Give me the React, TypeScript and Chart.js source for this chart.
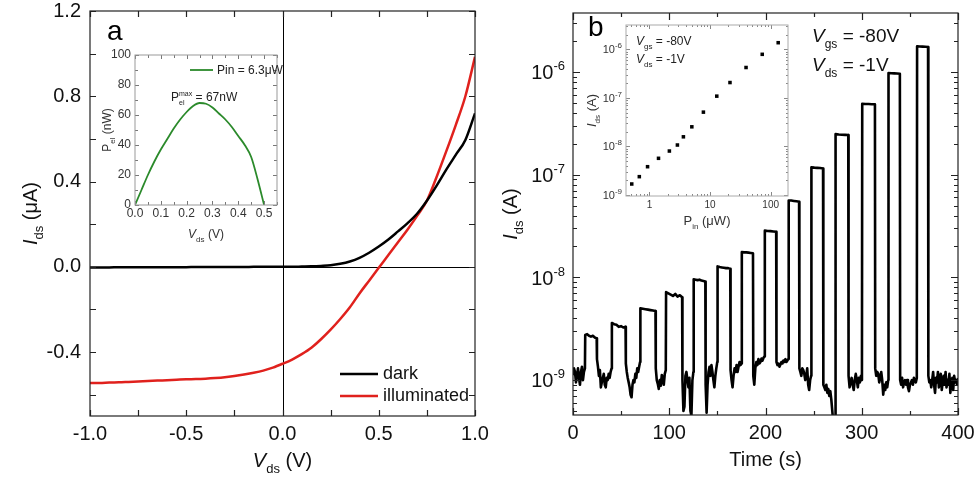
import React, { useEffect, useRef } from "react";
import { Chart, registerables } from "chart.js";

Chart.register(...registerables);

const FONT = "'Liberation Sans', Arial, Helvetica, sans-serif";

// ---------------- Panel a : Ids vs Vds ----------------
const vds = [-1.0, -0.95, -0.9, -0.85, -0.8, -0.75, -0.7, -0.65, -0.6, -0.55, -0.5, -0.45, -0.4, -0.35, -0.3, -0.25, -0.2, -0.15, -0.1, -0.05, 0, 0.05, 0.1, 0.15, 0.2, 0.25, 0.3, 0.35, 0.4, 0.45, 0.5, 0.55, 0.6, 0.65, 0.7, 0.75, 0.8, 0.85, 0.9, 0.95, 1.0];
const darkCurrent = [-0.003, -0.003, -0.003, -0.002, -0.002, -0.002, -0.002, -0.002, -0.002, -0.002, -0.002, -0.001, -0.001, -0.001, -0.001, -0.001, -0.001, 0, 0, 0, 0, 0, 0.001, 0.002, 0.004, 0.007, 0.014, 0.025, 0.042, 0.066, 0.095, 0.128, 0.166, 0.205, 0.25, 0.31, 0.38, 0.455, 0.525, 0.595, 0.72];
const illumCurrent = [-0.545, -0.545, -0.543, -0.542, -0.54, -0.538, -0.536, -0.534, -0.532, -0.53, -0.528, -0.527, -0.525, -0.522, -0.518, -0.512, -0.505, -0.497, -0.487, -0.473, -0.455, -0.435, -0.41, -0.38, -0.34, -0.295, -0.245, -0.19, -0.125, -0.065, -0.005, 0.055, 0.115, 0.175, 0.24, 0.31, 0.42, 0.54, 0.665, 0.8, 0.985];
const aXTicks = [-1, -0.5, 0, 0.5, 1];
const aXTickLabels = ["-1.0", "-0.5", "0.0", "0.5", "1.0"];
const aXMinor = [-0.75, -0.25, 0.25, 0.75];
const aYTicks = [1.2, 0.8, 0.4, 0, -0.4];
const aYTickLabels = ["1.2", "0.8", "0.4", "0.0", "-0.4"];
const aYMinor = [1.0, 0.6, 0.2, -0.2, -0.6];

// ---------------- Inset a : Pel vs Vds ----------------
const insetVds = [0, 0.025, 0.05, 0.075, 0.1, 0.125, 0.15, 0.175, 0.2, 0.225, 0.25, 0.275, 0.3, 0.325, 0.35, 0.375, 0.4, 0.425, 0.45, 0.475, 0.5];
const insetPel = [0, 10, 20, 29, 37, 44, 51, 57, 62, 66, 68, 67.5, 65, 61, 57, 52, 46, 40, 32, 17, 0];
const iaXTicks = [0, 0.1, 0.2, 0.3, 0.4, 0.5];
const iaXTickLabels = ["0.0", "0.1", "0.2", "0.3", "0.4", "0.5"];
const iaXMinor = [0.05, 0.15, 0.25, 0.35, 0.45, 0.55];
const iaYTicks = [0, 20, 40, 60, 80, 100];
const iaYTickLabels = ["0", "20", "40", "60", "80", "100"];
const iaYMinor = [10, 30, 50, 70, 90];

// ---------------- Panel b : Ids vs time ----------------
const pulseStart = [12.4, 40.1, 69.7, 96.4, 125.1, 149.9, 175.1, 199, 223.8, 247.4, 272.5, 300.2, 327.5, 357.2];
const pulseEnd = [24.9, 54.9, 86.0, 113.7, 137.8, 163.7, 187.3, 211.4, 235.2, 260.1, 286.3, 314, 339.9, 369.2];
// on-state current (nA) along each pulse
const plateauNA = [
  [2.75, 2.8, 2.7, 2.65, 2.7, 2.6, 2.55],
  [3.6, 3.5, 3.45, 3.3, 3.35, 3.25, 3.3],
  [5.0, 4.95, 4.9, 4.85, 4.8, 4.75, 4.7],
  [7.2, 7.0, 6.8, 6.6, 6.9, 6.5, 6.7, 6.4],
  [9.6, 9.5, 9.4, 9.5, 9.3, 9.2, 9.1],
  [12.8, 12.6, 12.5, 12.4, 12.3, 12.3, 12.1],
  [17.6, 17.5, 17.5, 17.4, 17.3, 17.2],
  [28.5, 28.3, 28.2, 28.0, 27.8],
  [56, 56, 55.5, 55, 54.5],
  [118, 117, 116.5, 116, 115],
  [248, 246, 245, 244, 243],
  [490, 488, 487, 485, 484],
  [975, 970, 968, 965, 960],
  [1780, 1770, 1765, 1760, 1750],
];
// dark-state current (nA) in each gap between pulses
const baselineNA = [
  [1.15, 1.3, 1.2, 0.95, 1.1, 1.3, 1.05, 0.9, 1.2, 1.35, 1.0, 1.2, 1.3],
  [1.6, 1.35, 1.1, 1.25, 0.85, 0.95, 1.05, 1.15, 0.9, 0.85, 1.05, 1.0, 1.15, 1.05, 1.2, 1.3],
  [1.45, 1.2, 1.05, 0.95, 0.85, 0.72, 0.68, 0.9, 1.0, 0.95, 1.15, 1.05, 1.3, 1.2, 1.35, 1.5],
  [1.3, 1.0, 0.92, 0.82, 1.0, 0.88, 1.12, 1.05, 0.9, 1.15, 1.25],
  [1.0, 0.5, 0.55, 1.1, 1.2, 1.0, 0.85, 1.05, 0.5, 0.45, 1.0, 1.2],
  [0.9, 0.48, 0.9, 1.2, 1.35, 1.1, 1.4, 1.2, 1.0, 0.85, 1.1, 1.3, 1.5],
  [1.25, 1.0, 0.85, 1.1, 1.3, 1.2, 1.4, 1.2, 1.35, 1.5, 1.4, 1.45],
  [1.1, 0.9, 1.3, 1.5, 1.4, 1.6, 1.45, 1.5, 1.62, 1.55, 1.65, 1.7],
  [1.5, 1.4, 1.45, 1.35, 1.42, 1.5, 1.45, 1.55, 1.5, 1.6, 1.5, 1.55, 1.6],
  [1.3, 1.2, 1.1, 1.3, 1.25, 1.15, 1.0, 1.1, 1.3, 0.9, 0.8, 1.0, 1.1],
  [0.9, 0.85, 0.8, 0.9, 0.75, 0.82, 0.7, 0.78, 0.65, 0.5, 0.38, 0.3, 0.42],
  [1.1, 0.85, 0.95, 1.05, 0.9, 0.8, 1.0, 1.15, 1.0, 0.85, 1.05, 0.95, 1.1, 1.0],
  [1.3, 1.1, 1.2, 1.15, 0.95, 1.05, 1.2, 1.0, 0.72, 0.9, 0.8, 0.95, 0.85, 1.0],
  [1.0, 0.9, 1.05, 0.85, 0.95, 1.0, 0.9, 1.0, 0.85, 0.78, 0.9, 0.95, 1.0, 0.9, 1.05, 1.0, 0.95, 1.05],
  [1.1, 0.95, 1.0, 0.85, 1.0, 1.2, 0.9, 0.75, 1.05, 0.95, 1.2, 0.85, 1.0, 1.15, 0.8, 0.95, 1.1, 0.9, 1.2, 0.85, 1.0, 0.9, 1.15, 0.75, 1.0, 1.05, 0.8, 1.1, 0.95, 1.0, 0.9, 1.05],
];
const bXTicks = [0, 100, 200, 300, 400];
const bXTickLabels = ["0", "100", "200", "300", "400"];
const bXMinor = [50, 150, 250, 350];
const bYTicks = [1e-9, 1e-8, 1e-7, 1e-6];
const bYTickExps = ["-9", "-8", "-7", "-6"];

// ---------------- Inset b : Ids vs Pin ----------------
const pinUW = [0.51, 0.68, 0.93, 1.41, 2.13, 2.89, 3.63, 5.0, 7.76, 12.9, 21.3, 39.2, 72.5, 133];
const idsIn = [1.68e-9, 2.38e-9, 3.82e-9, 5.69e-9, 8.04e-9, 1.07e-8, 1.58e-8, 2.54e-8, 5.1e-8, 1.09e-7, 2.08e-7, 4.25e-7, 7.95e-7, 1.38e-6];
const ibXTicks = [1, 10, 100];
const ibXTickLabels = ["1", "10", "100"];
const ibYTicks = [1e-9, 1e-8, 1e-7, 1e-6];
const ibYTickExps = ["-9", "-8", "-7", "-6"];

function decadeMinors(lo: number, hi: number) {
  const out: number[] = [];
  for (let e = -12; e <= 3; e++) {
    for (let m = 2; m <= 9; m++) {
      const v = m * Math.pow(10, e);
      if (v >= lo && v <= hi) out.push(v);
    }
  }
  return out;
}

type Seg = { t: string; it?: boolean; sub?: boolean; sup?: boolean; hold?: boolean };

function segFont(s: Seg, size: number, ratio: number) {
  const sz = s.sub || s.sup ? Math.round(size * ratio) : size;
  return `${s.it ? "italic " : ""}${sz}px ${FONT}`;
}

function drawRich(ctx: CanvasRenderingContext2D, segs: Seg[], x: number, y: number, size: number, align: string, color: string, ratio = 0.65) {
  ctx.save();
  const widths = segs.map((s) => {
    ctx.font = segFont(s, size, ratio);
    return ctx.measureText(s.t).width;
  });
  let total = 0;
  let held = 0;
  segs.forEach((s, i) => {
    if (s.hold) held = widths[i];
    else {
      total += Math.max(widths[i], held);
      held = 0;
    }
  });
  let cx = align === "center" ? x - total / 2 : align === "right" ? x - total : x;
  ctx.fillStyle = color;
  ctx.textAlign = "left";
  ctx.textBaseline = "alphabetic";
  held = 0;
  segs.forEach((s, i) => {
    ctx.font = segFont(s, size, ratio);
    const dy = s.sub ? size * 0.3 : s.sup ? -size * 0.45 : 0;
    ctx.fillText(s.t, cx, y + dy);
    if (s.hold) held = widths[i];
    else {
      cx += Math.max(widths[i], held);
      held = 0;
    }
  });
  ctx.restore();
}

function drawRichRotated(ctx: CanvasRenderingContext2D, segs: Seg[], x: number, y: number, size: number, color: string, ratio = 0.65) {
  ctx.save();
  ctx.translate(x, y);
  ctx.rotate(-Math.PI / 2);
  drawRich(ctx, segs, 0, 0, size, "center", color, ratio);
  ctx.restore();
}

type FrameOpts = {
  color: string;
  tickColor: string;
  width: number;
  xMajor: number[];
  xMinor: number[];
  yMajor: number[];
  yMinor: number[];
  major: number;
  minor: number;
};

function drawFrame(chart: any, o: FrameOpts) {
  const { ctx, chartArea: a } = chart;
  const xs = chart.scales.x;
  const ys = chart.scales.y;
  ctx.save();
  ctx.strokeStyle = o.tickColor;
  ctx.lineWidth = o.width;
  ctx.beginPath();
  const xt = (vals: number[], len: number) =>
    vals.forEach((v) => {
      const p = Math.round(xs.getPixelForValue(v)) + 0.5;
      if (p < a.left - 1 || p > a.right + 1) return;
      ctx.moveTo(p, a.bottom);
      ctx.lineTo(p, a.bottom - len);
      ctx.moveTo(p, a.top);
      ctx.lineTo(p, a.top + len);
    });
  const yt = (vals: number[], len: number) =>
    vals.forEach((v) => {
      const p = Math.round(ys.getPixelForValue(v)) + 0.5;
      if (p < a.top - 1 || p > a.bottom + 1) return;
      ctx.moveTo(a.left, p);
      ctx.lineTo(a.left + len, p);
      ctx.moveTo(a.right, p);
      ctx.lineTo(a.right - len, p);
    });
  xt(o.xMajor, o.major);
  xt(o.xMinor, o.minor);
  yt(o.yMajor, o.major);
  yt(o.yMinor, o.minor);
  ctx.stroke();
  ctx.strokeStyle = o.color;
  ctx.strokeRect(a.left, a.top, a.right - a.left, a.bottom - a.top);
  ctx.restore();
}

function xLabels(chart: any, vals: number[], labels: string[], size: number, gap: number, color: string) {
  const { ctx, chartArea: a } = chart;
  ctx.save();
  ctx.font = `${size}px ${FONT}`;
  ctx.fillStyle = color;
  ctx.textAlign = "center";
  ctx.textBaseline = "top";
  vals.forEach((v, i) => ctx.fillText(labels[i], chart.scales.x.getPixelForValue(v), a.bottom + gap));
  ctx.restore();
}

function yLabels(chart: any, vals: number[], labels: string[], size: number, gap: number, color: string) {
  const { ctx, chartArea: a } = chart;
  ctx.save();
  ctx.font = `${size}px ${FONT}`;
  ctx.fillStyle = color;
  ctx.textAlign = "right";
  ctx.textBaseline = "middle";
  vals.forEach((v, i) => ctx.fillText(labels[i], a.left - gap, chart.scales.y.getPixelForValue(v)));
  ctx.restore();
}

function yLogLabels(chart: any, vals: number[], exps: string[], size: number, gap: number, color: string, ratio: number) {
  const { ctx, chartArea: a } = chart;
  vals.forEach((v, i) => {
    const p = chart.scales.y.getPixelForValue(v);
    drawRich(ctx, [{ t: "10" }, { t: exps[i], sup: true }], a.left - gap, p + size * 0.36, size, "right", color, ratio);
  });
}

const baseOptions = (padding: any, scales: any) => ({
  responsive: false,
  animation: false as const,
  events: [] as any[],
  layout: { padding },
  scales,
  plugins: { legend: { display: false }, tooltip: { enabled: false } },
});

function makePanelA(canvas: HTMLCanvasElement) {
  return new Chart(canvas, {
    type: "line",
    data: {
      datasets: [
        { label: "dark", data: vds.map((v, i) => ({ x: v, y: darkCurrent[i] })), borderColor: "#000", borderWidth: 2.5, pointRadius: 0, cubicInterpolationMode: "monotone" },
        { label: "illuminated", data: vds.map((v, i) => ({ x: v, y: illumCurrent[i] })), borderColor: "#e0211d", borderWidth: 2.5, pointRadius: 0, cubicInterpolationMode: "monotone" },
      ],
    },
    options: baseOptions(
      { left: 90, top: 11, right: 15, bottom: 67 },
      { x: { type: "linear", min: -1, max: 1, display: false }, y: { type: "linear", min: -0.7, max: 1.2, display: false } }
    ) as any,
    plugins: [
      {
        id: "decorA",
        beforeDatasetsDraw(chart: any) {
          const { ctx, chartArea: a } = chart;
          const y0 = Math.round(chart.scales.y.getPixelForValue(0)) + 0.5;
          const x0 = Math.round(chart.scales.x.getPixelForValue(0)) + 0.5;
          ctx.save();
          ctx.strokeStyle = "#000";
          ctx.lineWidth = 1;
          ctx.beginPath();
          ctx.moveTo(a.left, y0);
          ctx.lineTo(a.right, y0);
          ctx.moveTo(x0, a.top);
          ctx.lineTo(x0, a.bottom);
          ctx.stroke();
          ctx.restore();
        },
        afterDraw(chart: any) {
          const { ctx, chartArea: a } = chart;
          drawFrame(chart, { color: "#222", tickColor: "#222", width: 1.2, xMajor: aXTicks, xMinor: aXMinor, yMajor: aYTicks, yMinor: aYMinor, major: 6, minor: 6 });
          xLabels(chart, aXTicks, aXTickLabels, 20, 8, "#111");
          yLabels(chart, aYTicks, aYTickLabels, 20, 9, "#111");
          const cx = (a.left + a.right) / 2;
          const cy = (a.top + a.bottom) / 2;
          drawRich(ctx, [{ t: "V", it: true }, { t: "ds", sub: true }, { t: " (V)" }], cx, 467, 20, "center", "#111");
          drawRichRotated(ctx, [{ t: "I", it: true }, { t: "ds", sub: true }, { t: " (\u03bcA)" }], 37, cy, 20, "#111");
          drawRich(ctx, [{ t: "a" }], 107, 40, 28, "left", "#000");
          // legend
          const items = [
            { label: "dark", color: "#000", y: a.bottom - 42 },
            { label: "illuminated", color: "#e0211d", y: a.bottom - 20 },
          ];
          ctx.save();
          items.forEach((it) => {
            ctx.strokeStyle = it.color;
            ctx.lineWidth = 2.5;
            ctx.beginPath();
            ctx.moveTo(340, it.y);
            ctx.lineTo(378, it.y);
            ctx.stroke();
            ctx.fillStyle = "#111";
            ctx.font = `18px ${FONT}`;
            ctx.textAlign = "left";
            ctx.textBaseline = "middle";
            ctx.fillText(it.label, 383, it.y);
          });
          ctx.restore();
        },
      },
    ],
  });
}

function makeInsetA(canvas: HTMLCanvasElement) {
  return new Chart(canvas, {
    type: "line",
    data: {
      datasets: [
        { label: "Pin = 6.3\u03bcW", data: insetVds.map((v, i) => ({ x: v, y: insetPel[i] })), borderColor: "#2b8a2b", borderWidth: 1.8, pointRadius: 0, cubicInterpolationMode: "monotone" },
      ],
    },
    options: baseOptions(
      { left: 40, top: 10, right: 13, bottom: 40 },
      { x: { type: "linear", min: 0, max: 0.55, display: false }, y: { type: "linear", min: 0, max: 100, display: false } }
    ) as any,
    plugins: [
      {
        id: "decorIA",
        afterDraw(chart: any) {
          const { ctx, chartArea: a } = chart;
          drawFrame(chart, { color: "#999", tickColor: "#777", width: 1, xMajor: iaXTicks, xMinor: iaXMinor, yMajor: iaYTicks, yMinor: iaYMinor, major: 4, minor: 3 });
          xLabels(chart, iaXTicks, iaXTickLabels, 12, 3, "#333");
          yLabels(chart, iaYTicks, iaYTickLabels, 12, 4, "#333");
          const cx = (a.left + a.right) / 2;
          const cy = (a.top + a.bottom) / 2;
          drawRich(ctx, [{ t: "V", it: true }, { t: "ds", sub: true }, { t: " (V)" }], cx, a.bottom + 33, 12, "center", "#333");
          drawRichRotated(ctx, [{ t: "P" }, { t: "el", sub: true }, { t: " (nW)" }], a.left - 24, cy, 12, "#333");
          // legend
          ctx.save();
          ctx.strokeStyle = "#2b8a2b";
          ctx.lineWidth = 1.8;
          ctx.beginPath();
          ctx.moveTo(a.left + 55, a.top + 15);
          ctx.lineTo(a.left + 78, a.top + 15);
          ctx.stroke();
          ctx.restore();
          drawRich(ctx, [{ t: "Pin = 6.3\u03bcW" }], a.left + 82, a.top + 19, 12, "left", "#222");
          drawRich(ctx, [{ t: "P" }, { t: "el", sub: true, hold: true }, { t: "max", sup: true }, { t: " = 67nW" }], a.left + 36, a.top + 46, 12, "left", "#222", 0.6);
        },
      },
    ],
  });
}

function makePanelB(canvas: HTMLCanvasElement) {
  const pts: { x: number; y: number }[] = [];
  baselineNA.forEach((gap, i) => {
    const s = i === 0 ? 0 : pulseEnd[i - 1];
    const e = i < pulseStart.length ? pulseStart[i] : 400;
    gap.forEach((v, j) => pts.push({ x: s + ((e - s) * j) / (gap.length - 1), y: v * 1e-9 }));
    if (i < pulseStart.length) {
      const ps = pulseStart[i] + 0.3;
      const pe = pulseEnd[i] - 0.3;
      const pl = plateauNA[i];
      pl.forEach((v, j) => pts.push({ x: ps + ((pe - ps) * j) / (pl.length - 1), y: v * 1e-9 }));
    }
  });
  return new Chart(canvas, {
    type: "line",
    data: {
      datasets: [{ label: "Ids", data: pts, borderColor: "#000", borderWidth: 2.6, pointRadius: 0, borderJoinStyle: "round" }],
    },
    options: baseOptions(
      { left: 83, top: 13, right: 17, bottom: 68 },
      {
        x: { type: "linear", min: 0, max: 400, display: false },
        y: { type: "logarithmic", min: Math.pow(10, -9.34), max: Math.pow(10, -5.426), display: false },
      }
    ) as any,
    plugins: [
      {
        id: "decorB",
        afterDraw(chart: any) {
          const { ctx, chartArea: a } = chart;
          drawFrame(chart, { color: "#222", tickColor: "#222", width: 1.2, xMajor: bXTicks, xMinor: bXMinor, yMajor: bYTicks, yMinor: decadeMinors(4.6e-10, 3.7e-6), major: 7, minor: 4 });
          xLabels(chart, bXTicks, bXTickLabels, 20, 8, "#111");
          yLogLabels(chart, bYTicks, bYTickExps, 20, 8, "#111", 0.65);
          const cx = (a.left + a.right) / 2;
          const cy = (a.top + a.bottom) / 2;
          drawRich(ctx, [{ t: "Time (s)" }], cx, 466, 20, "center", "#111");
          drawRichRotated(ctx, [{ t: "I", it: true }, { t: "ds", sub: true }, { t: " (A)" }], 27, cy, 20, "#111");
          drawRich(ctx, [{ t: "b" }], a.left + 15, a.top + 23, 28, "left", "#000");
          drawRich(ctx, [{ t: "V", it: true }, { t: "gs", sub: true }, { t: " = -80V" }], a.left + 239, a.top + 29, 19, "left", "#111");
          drawRich(ctx, [{ t: "V", it: true }, { t: "ds", sub: true }, { t: " = -1V" }], a.left + 239, a.top + 58, 19, "left", "#111");
        },
      },
    ],
  });
}

function makeInsetB(canvas: HTMLCanvasElement) {
  return new Chart(canvas, {
    type: "scatter",
    data: {
      datasets: [
        { label: "Ids vs Pin", data: pinUW.map((p, i) => ({ x: p, y: idsIn[i] })), backgroundColor: "#000", borderColor: "#000", borderWidth: 0, pointStyle: "rect", pointRadius: 2.5 },
      ],
    },
    options: baseOptions(
      { left: 46, top: 10, right: 12, bottom: 44 },
      {
        x: { type: "logarithmic", min: 0.41, max: 193, display: false },
        y: { type: "logarithmic", min: 0.95e-9, max: 3.2e-6, display: false },
      }
    ) as any,
    plugins: [
      {
        id: "decorIB",
        beforeDraw(chart: any) {
          const { ctx, chartArea: a } = chart;
          ctx.save();
          ctx.fillStyle = "#fff";
          ctx.fillRect(a.left, a.top, a.right - a.left, a.bottom - a.top);
          ctx.restore();
        },
        afterDraw(chart: any) {
          const { ctx, chartArea: a } = chart;
          drawFrame(chart, { color: "#aaa", tickColor: "#888", width: 1, xMajor: ibXTicks, xMinor: decadeMinors(0.41, 193), yMajor: ibYTicks, yMinor: decadeMinors(0.95e-9, 3.2e-6), major: 4, minor: 2 });
          xLabels(chart, ibXTicks, ibXTickLabels, 10, 4, "#333");
          yLogLabels(chart, ibYTicks, ibYTickExps, 11, 4, "#333", 0.7);
          const cx = (a.left + a.right) / 2;
          const cy = (a.top + a.bottom) / 2;
          drawRich(ctx, [{ t: "P" }, { t: "in", sub: true }, { t: " (\u03bcW)" }], cx, a.bottom + 29, 13, "center", "#333");
          drawRichRotated(ctx, [{ t: "I", it: true }, { t: "ds", sub: true }, { t: " (A)" }], a.left - 30, cy, 13, "#333");
          drawRich(ctx, [{ t: "V", it: true }, { t: "gs", sub: true }, { t: " = -80V" }], a.left + 10, a.top + 20, 12, "left", "#222");
          drawRich(ctx, [{ t: "V", it: true }, { t: "ds", sub: true }, { t: " = -1V" }], a.left + 10, a.top + 38, 12, "left", "#222");
        },
      },
    ],
  });
}

function ChartCanvas(props: { left: number; top: number; width: number; height: number; make: (c: HTMLCanvasElement) => Chart }) {
  const ref = useRef<HTMLCanvasElement>(null);
  useEffect(() => {
    const chart = props.make(ref.current as HTMLCanvasElement);
    return () => chart.destroy();
  }, []);
  return (
    <canvas
      ref={ref}
      width={props.width}
      height={props.height}
      style={{ position: "absolute", left: props.left, top: props.top, width: props.width, height: props.height }}
    />
  );
}

export default function App() {
  return (
    <div style={{ position: "absolute", left: 0, top: 0, width: 975, height: 483, background: "#fff", overflow: "hidden" }}>
      <ChartCanvas left={0} top={0} width={490} height={483} make={makePanelA} />
      <ChartCanvas left={490} top={0} width={485} height={483} make={makePanelB} />
      <ChartCanvas left={95} top={45} width={195} height={200} make={makeInsetA} />
      <ChartCanvas left={580} top={15} width={220} height={225} make={makeInsetB} />
    </div>
  );
}
